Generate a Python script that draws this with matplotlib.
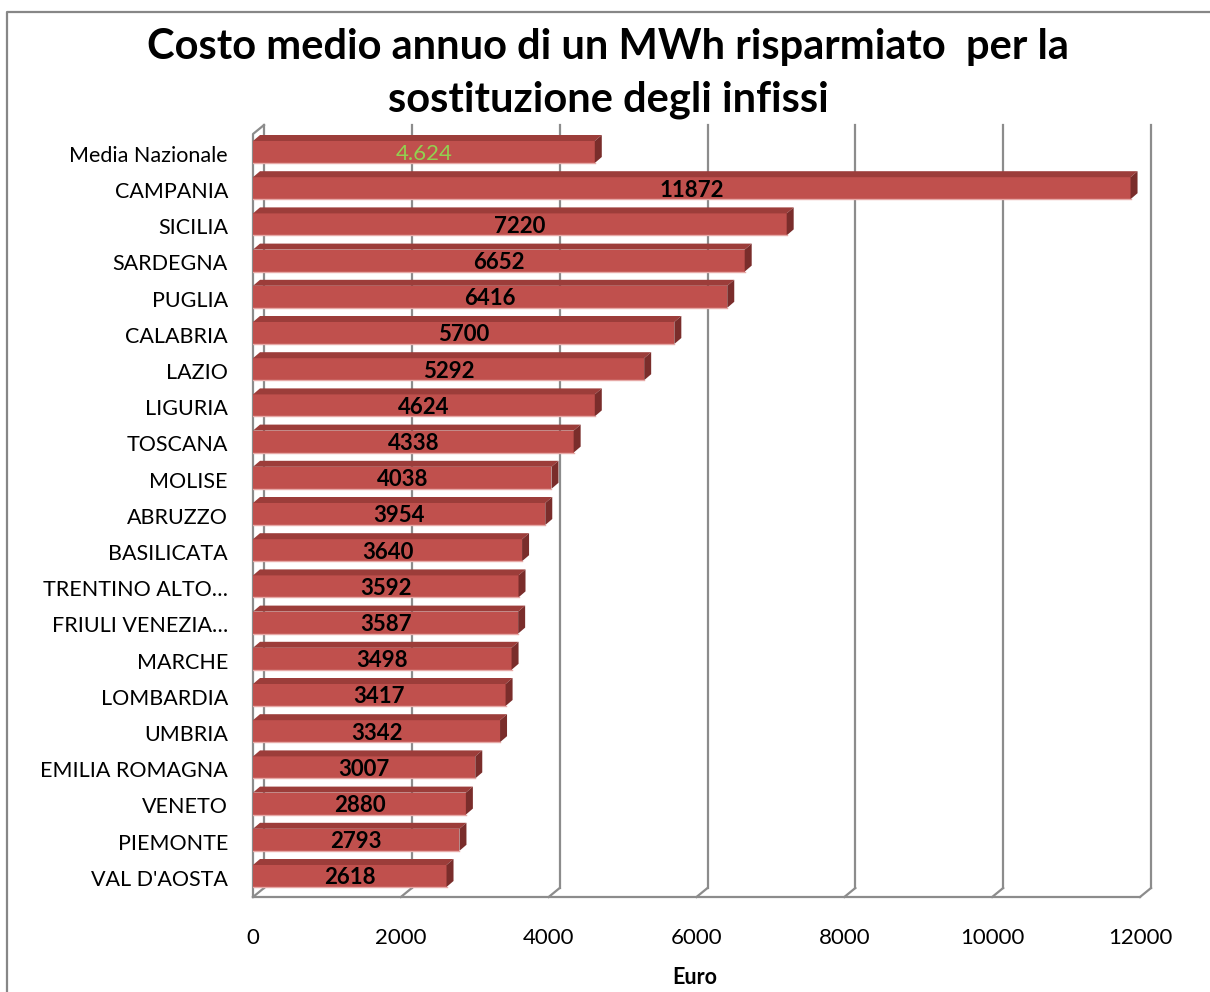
import matplotlib.pyplot as plt
from matplotlib.patches import Polygon
from matplotlib.lines import Line2D

plt.rcParams['font.family'] = ['Lato', 'DejaVu Sans']

# dati
regioni = ['Media Nazionale', 'CAMPANIA', 'SICILIA', 'SARDEGNA', 'PUGLIA', 'CALABRIA',
           'LAZIO', 'LIGURIA', 'TOSCANA', 'MOLISE', 'ABRUZZO', 'BASILICATA',
           'TRENTINO ALTO…', 'FRIULI VENEZIA…', 'MARCHE', 'LOMBARDIA', 'UMBRIA',
           'EMILIA ROMAGNA', 'VENETO', 'PIEMONTE', "VAL D'AOSTA"]
costi = [4624, 11872, 7220, 6652, 6416, 5700, 5292, 4624, 4338, 4038, 3954, 3640,
         3592, 3587, 3498, 3417, 3342, 3007, 2880, 2793, 2618]
etichette = ['4.624'] + [str(c) for c in costi[1:]]
xticks = [0, 2000, 4000, 6000, 8000, 10000, 12000]

W, H = 1210, 992
fig = plt.figure(figsize=(W / 100, H / 100), dpi=100)

# area del grafico (pixel)
x0px, x1px = 253, 1140
ytop, ybot = 125, 897
ypitch = 36.2
ycen0 = 152

ax = fig.add_axes([x0px / W, 1 - ybot / H, (x1px - x0px) / W, (ybot - ytop) / H])
ax.set_xlim(0, 12000)
ax.set_ylim((ybot - ycen0) / ypitch, (ytop - ycen0) / ypitch)
for s in ax.spines.values():
    s.set_visible(False)

ux = 12000 / (x1px - x0px)   # unita per pixel
uy = 1 / ypitch

# profondita 3D
gdx, gdy = 11 * ux, -9 * uy     # piano di fondo
bdx, bdy = 7 * ux, -6 * uy      # barre
ymin, ymax = ax.get_ylim()[1], ax.get_ylim()[0]

grid_col = '#8c8c8c'
gl = 1.6
for v in xticks:
    ax.add_line(Line2D([v + gdx, v + gdx], [ymax + gdy, ymin], color=grid_col, lw=gl,
                       clip_on=False, zorder=1))
    ax.add_line(Line2D([v, v + gdx], [ymax, ymax + gdy], color=grid_col, lw=gl,
                       clip_on=False, zorder=1))
ax.add_line(Line2D([0, 12000], [ymax, ymax], color=grid_col, lw=gl, clip_on=False, zorder=1))
# parete sinistra
ax.add_line(Line2D([0, 0, gdx], [ymax, ymin - gdy, ymin], color=grid_col, lw=gl,
                   clip_on=False, zorder=1))

# barre
hh = 11 * uy
front = '#c0504d'
top = '#9c3d3a'
side = '#7a2d2b'
ax.barh(range(len(costi)), costi, height=2 * hh, color=front, edgecolor='none', zorder=2)
for i, v in enumerate(costi):
    ax.add_patch(Polygon([(0, i - hh), (v, i - hh), (v + bdx, i - hh + bdy), (bdx, i - hh + bdy)],
                         closed=True, facecolor=top, edgecolor='none', zorder=2, clip_on=False))
    ax.add_patch(Polygon([(v, i - hh), (v, i + hh), (v + bdx, i + hh + bdy), (v + bdx, i - hh + bdy)],
                         closed=True, facecolor=side, edgecolor='none', zorder=2, clip_on=False))
    ax.add_line(Line2D([0, v], [i + hh, i + hh], color='#e6a9a7', lw=1, zorder=2))
    col = '#92d050' if i == 0 else 'black'
    wt = 'normal' if i == 0 else 'bold'
    ax.text(v / 2, i + 0.05, etichette[i], ha='center', va='center', fontsize=16,
            fontweight=wt, color=col, zorder=3)

ax.set_yticks([i + 0.05 for i in range(len(regioni))])
ax.set_yticklabels(regioni, fontsize=15.5)
ax.set_xticks(xticks)
ax.set_xticklabels([str(t) for t in xticks], fontsize=16)
ax.tick_params(axis='y', length=0, pad=18)
ax.tick_params(axis='x', length=0, pad=22)

fig.text(695 / W, 1 - 977 / H, 'Euro', ha='center', va='center', fontsize=15.5, fontweight='bold')
fig.text(608 / W, 1 - 47 / H, 'Costo medio annuo di un MWh risparmiato  per la',
         ha='center', va='center', fontsize=30, fontweight='bold')
fig.text(608 / W, 1 - 100 / H, 'sostituzione degli infissi',
         ha='center', va='center', fontsize=30, fontweight='bold')

# bordo esterno
fig.add_artist(Line2D([7 / W, 7 / W, 1], [0, 1 - 12 / H, 1 - 12 / H], color='#878787', lw=1.6,
                      transform=fig.transFigure))

plt.savefig('out.png', dpi=100)
